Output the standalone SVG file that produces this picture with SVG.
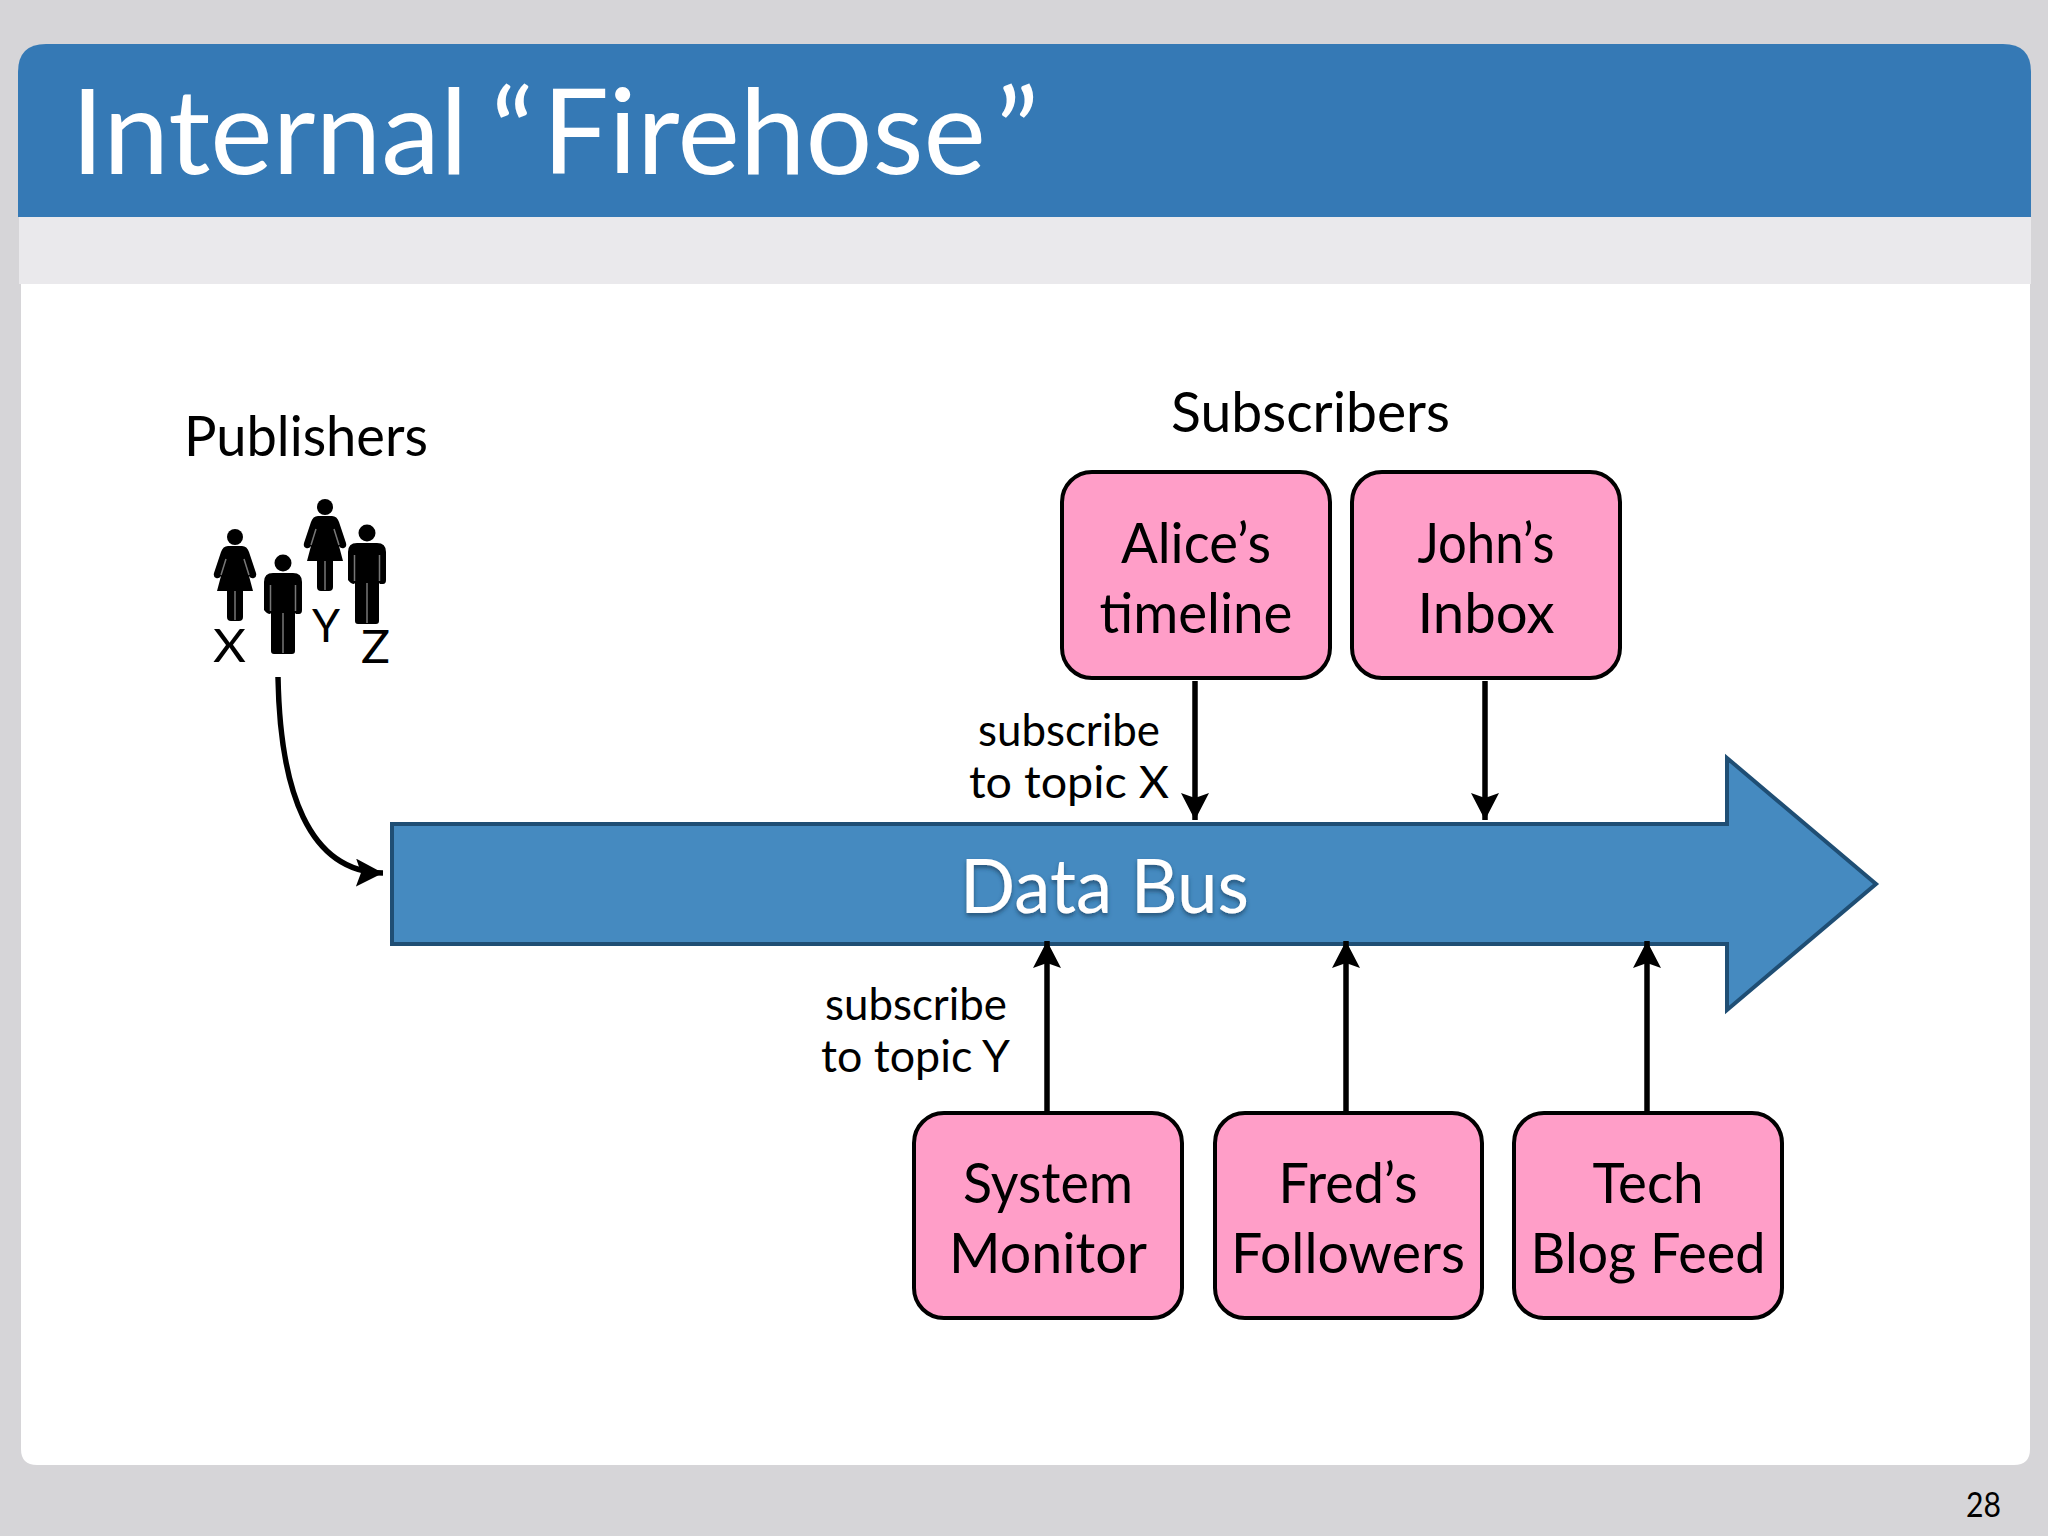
<svg xmlns="http://www.w3.org/2000/svg" width="2048" height="1536" viewBox="0 0 2048 1536">
<style>
text{font-family:"Lato","Open Sans","Liberation Sans",sans-serif;fill:#000}
.box{fill:#ff9ec8;stroke:#000;stroke-width:4}
.lbl{font-size:57px;text-anchor:middle}
.sm{font-size:44px}
.cn{fill:none;stroke:#000;stroke-width:5.5}
.sl{fill:none;stroke:#777;stroke-width:1.5}
</style>
<defs>
<marker id="ah" markerUnits="userSpaceOnUse" markerWidth="32" markerHeight="32" refX="27" refY="14" orient="auto" viewBox="0 0 32 32"><path d="M0 0L27 14L0 28L5 14Z" fill="#000"/></marker>
<filter id="sh" x="-10%" y="-20%" width="120%" height="140%"><feDropShadow dx="0" dy="3" stdDeviation="2" flood-color="#1c3f5e" flood-opacity=".7"/></filter>
<symbol id="man" overflow="visible"><circle r="8.5" cy="0"/><path d="M-10 10H10Q19 10 19 19V47Q19 51 16 51T13 51L12 50V88Q12 91 9 91H-9Q-12 91-12 88V50L-13 51Q-16 51-19 47V19Q-19 10-10 10Z"/><path class="sl" d="M0 50V90M-12.500 22V48M12.500 22V48"/></symbol>
<symbol id="woman" overflow="visible"><circle r="8" cy="0"/><path d="M-7 9H7Q12 9 14 15L21 36Q22 40 19 41T14 39L18 54H8V80Q8 84 4 84H-4Q-8 84-8 80V54H-18L-14 39Q-16 42-19 41T-21 36L-14 15Q-12 9-7 9Z"/><path class="sl" d="M0 54V83M-9 22L-14 38M9 22L14 38"/></symbol>
</defs>
<rect id="bg" width="2048" height="1536" fill="#d6d5d8"/>
<path id="panel" d="M21 284H2030V1449Q2030 1465 2014 1465H37Q21 1465 21 1449Z" fill="#fff"/>
<rect id="band" x="19" y="217" width="2012" height="67" fill="#eae9ec"/>
<path id="header" d="M18 217V72Q18 44 46 44H2003Q2031 44 2031 72V217Z" fill="#3579b5"/>
<text id="title" x="71" y="174" font-size="118" style="fill:#fff">Internal<tspan dx="-7"> “</tspan><tspan dx="8">Firehose</tspan><tspan dx="12">”</tspan></text>
<text id="page" x="1966" y="1517" font-size="34" textLength="35" lengthAdjust="spacingAndGlyphs">28</text>
<g id="publishers">
<text x="184" y="456" font-size="57" textLength="244" lengthAdjust="spacingAndGlyphs">Publishers</text>
<use href="#woman" x="235" y="537"/>
<use href="#man" x="283" y="563"/>
<use href="#woman" x="325" y="507"/>
<use href="#man" x="367" y="533"/>
<text x="213" y="662" font-size="47" textLength="33" lengthAdjust="spacingAndGlyphs">X</text>
<text x="312" y="642" font-size="47" textLength="28" lengthAdjust="spacingAndGlyphs">Y</text>
<text x="361" y="663" font-size="47" textLength="29" lengthAdjust="spacingAndGlyphs">Z</text>
</g>
<text id="subscribers" x="1171" y="432" font-size="57" textLength="279" lengthAdjust="spacingAndGlyphs">Subscribers</text>
<g id="bus">
<path d="M392 824H1727V758L1876 884L1727 1010V944H392Z" fill="#458ac0" stroke="#1f4e74" stroke-width="4"/>
<text x="960" y="913" font-size="76" textLength="289" lengthAdjust="spacingAndGlyphs" filter="url(#sh)" style="fill:#fff">Data Bus</text>
</g>
<g id="alice"><rect class="box" x="1062" y="472" width="268" height="206" rx="30"/><text class="lbl" x="1196" y="563" textLength="150" lengthAdjust="spacingAndGlyphs">Alice’s</text><text class="lbl" x="1196" y="633" textLength="193" lengthAdjust="spacingAndGlyphs">timeline</text></g>
<g id="john"><rect class="box" x="1352" y="472" width="268" height="206" rx="30"/><text class="lbl" x="1486" y="563" textLength="137" lengthAdjust="spacingAndGlyphs">John’s</text><text class="lbl" x="1486" y="633" textLength="137" lengthAdjust="spacingAndGlyphs">Inbox</text></g>
<g id="system"><rect class="box" x="914" y="1113" width="268" height="205" rx="30"/><text class="lbl" x="1048" y="1203" textLength="170" lengthAdjust="spacingAndGlyphs">System</text><text class="lbl" x="1048" y="1273" textLength="198" lengthAdjust="spacingAndGlyphs">Monitor</text></g>
<g id="fred"><rect class="box" x="1215" y="1113" width="267" height="205" rx="30"/><text class="lbl" x="1348" y="1203" textLength="139" lengthAdjust="spacingAndGlyphs">Fred’s</text><text class="lbl" x="1348" y="1273" textLength="234" lengthAdjust="spacingAndGlyphs">Followers</text></g>
<g id="tech"><rect class="box" x="1514" y="1113" width="268" height="205" rx="30"/><text class="lbl" x="1648" y="1203" textLength="111" lengthAdjust="spacingAndGlyphs">Tech</text><text class="lbl" x="1648" y="1273" textLength="235" lengthAdjust="spacingAndGlyphs">Blog Feed</text></g>
<g id="connectors">
<path class="cn" d="M278 677C280 790 308 872 383 873" marker-end="url(#ah)"/>
<path class="cn" d="M1195 681V820" marker-end="url(#ah)"/>
<path class="cn" d="M1485 681V820" marker-end="url(#ah)"/>
<path class="cn" d="M1047 1112V941" marker-end="url(#ah)"/>
<path class="cn" d="M1346 1112V941" marker-end="url(#ah)"/>
<path class="cn" d="M1647 1112V941" marker-end="url(#ah)"/>
</g>
<g id="labels">
<text class="sm" x="978" y="746" textLength="182" lengthAdjust="spacingAndGlyphs">subscribe</text>
<text class="sm" x="969" y="798" textLength="200" lengthAdjust="spacingAndGlyphs">to topic X</text>
<text class="sm" x="825" y="1020" textLength="182" lengthAdjust="spacingAndGlyphs">subscribe</text>
<text class="sm" x="821" y="1072" textLength="189" lengthAdjust="spacingAndGlyphs">to topic Y</text>
</g>
</svg>
